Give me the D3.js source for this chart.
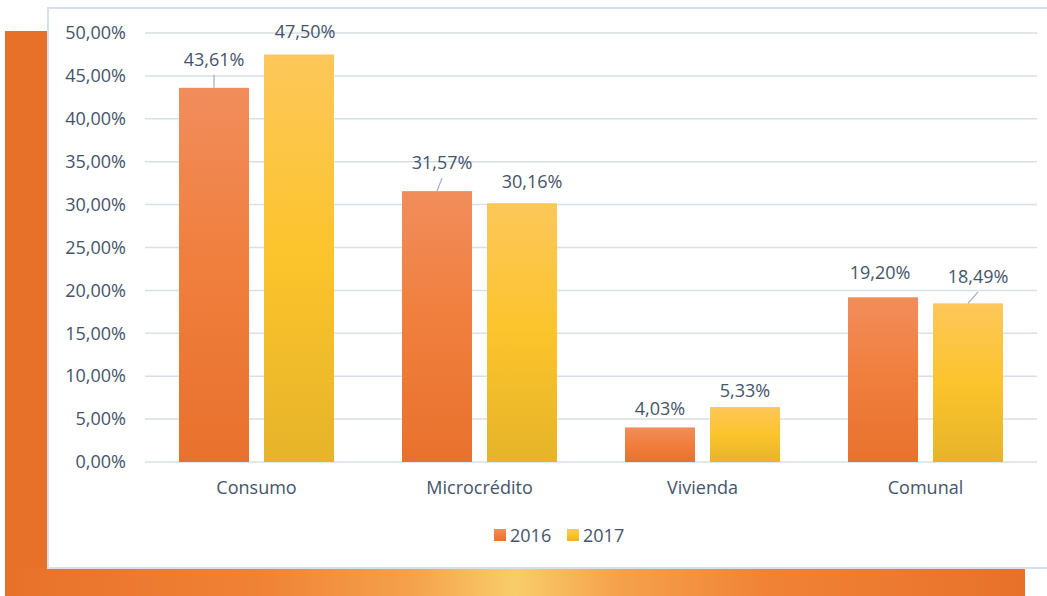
<!DOCTYPE html>
<html><head><meta charset="utf-8">
<script src="https://cdn.jsdelivr.net/npm/d3@7"></script>
<style>
html,body{margin:0;padding:0;background:#fff;}
svg{display:block;}
text{font-family:"Open Sans",sans-serif;fill:#44546A;}
</style></head>
<body>
<script>
const categories = ["Consumo", "Microcrédito", "Vivienda", "Comunal"];
const seriesNames = ["2016", "2017"];
const values2016 = [43.61, 31.57, 4.03, 19.20];
const values2017 = [47.50, 30.16, 6.40, 18.49];
const labels2016 = ["43,61%", "31,57%", "4,03%", "19,20%"];
const labels2017 = ["47,50%", "30,16%", "5,33%", "18,49%"];
const yTicks = [0, 5, 10, 15, 20, 25, 30, 35, 40, 45, 50];

const W = 1047, H = 596;
const FS = 18;
const svg = d3.select("body").append("svg").attr("width", W).attr("height", H);
const defs = svg.append("defs");

// background gradient
const bg = defs.append("linearGradient").attr("id", "bgGrad").attr("x1", "0").attr("x2", "1").attr("y1", "0").attr("y2", "0");
bg.append("stop").attr("offset", "0").attr("stop-color", "#E8712A");
bg.append("stop").attr("offset", "0.25").attr("stop-color", "#F08235");
bg.append("stop").attr("offset", "0.4").attr("stop-color", "#F5A24C");
bg.append("stop").attr("offset", "0.5").attr("stop-color", "#F9CD6A");
bg.append("stop").attr("offset", "0.6").attr("stop-color", "#F5A24C");
bg.append("stop").attr("offset", "0.75").attr("stop-color", "#F08235");
bg.append("stop").attr("offset", "1").attr("stop-color", "#E8712A");

const g16 = defs.append("linearGradient").attr("id", "g2016").attr("x1", "0").attr("x2", "0").attr("y1", "0").attr("y2", "1");
g16.append("stop").attr("offset", "0").attr("stop-color", "#F18D5C");
g16.append("stop").attr("offset", "0.5").attr("stop-color", "#F07E3C");
g16.append("stop").attr("offset", "1").attr("stop-color", "#E8712D");
const g17 = defs.append("linearGradient").attr("id", "g2017").attr("x1", "0").attr("x2", "0").attr("y1", "0").attr("y2", "1");
g17.append("stop").attr("offset", "0").attr("stop-color", "#FDC75A");
g17.append("stop").attr("offset", "0.5").attr("stop-color", "#FCC42C");
g17.append("stop").attr("offset", "1").attr("stop-color", "#E6B42A");

// orange backdrop
svg.append("rect").attr("x", 5).attr("y", 31).attr("width", 1020).attr("height", H - 31).attr("fill", "#E8712A");
svg.append("rect").attr("x", 5).attr("y", 568).attr("width", 1020).attr("height", H - 568).attr("fill", "url(#bgGrad)");

// white panel
svg.append("rect").attr("x", 48).attr("y", 8).attr("width", 1010).attr("height", 560)
  .attr("fill", "#fff").attr("stroke", "#D9DFE7").attr("stroke-width", 2);

const x = d3.scaleBand().domain(categories).range([145, 1037]).padding(0);
const xs = d3.scaleBand().domain(seriesNames).range([0, 155]).paddingInner(15 / 85).paddingOuter(0);
const y = d3.scaleLinear().domain([0, 50]).range([462, 33]);

// gridlines
svg.append("g").selectAll("line").data(yTicks).join("line")
  .attr("x1", 145).attr("x2", 1037)
  .attr("y1", d => y(d)).attr("y2", d => y(d))
  .attr("stroke", "#D9DFE6").attr("stroke-width", 1.5);

// y axis labels
const yAxis = d3.axisLeft(y).tickValues(yTicks).tickSize(0).tickPadding(0)
  .tickFormat(d => d.toFixed(2).replace(".", ",") + "%");
const ya = svg.append("g").attr("transform", "translate(126,0)").call(yAxis);
ya.select(".domain").remove();
ya.selectAll("text").attr("font-size", FS).attr("font-family", "Open Sans").attr("fill", "#44546A");

// x axis labels
const xAxis = d3.axisBottom(x).tickSize(0).tickPadding(0);
const xa = svg.append("g").attr("transform", "translate(0,481)").call(xAxis);
xa.select(".domain").remove();
xa.selectAll("text").attr("font-size", FS).attr("font-family", "Open Sans").attr("fill", "#44546A");

const data = categories.map((c, i) => ({
  cat: c,
  vals: [
    {s: "2016", v: values2016[i], label: labels2016[i]},
    {s: "2017", v: values2017[i], label: labels2017[i]}
  ]
}));

const groups = svg.append("g").selectAll("g").data(data).join("g")
  .attr("transform", d => `translate(${x(d.cat) + (x.bandwidth() - 155) / 2},0)`);
groups.selectAll("rect").data(d => d.vals).join("rect")
  .attr("x", d => xs(d.s)).attr("width", xs.bandwidth())
  .attr("y", d => y(d.v)).attr("height", d => y(0) - y(d.v))
  .attr("fill", d => d.s === "2016" ? "url(#g2016)" : "url(#g2017)");

// data label placement (baseline offset from bar top; some with leader lines)
const labelOffsets = {
  "Consumo|2016": {dx: 0, dy: -22, leader: true},
  "Consumo|2017": {dx: 6, dy: -16.5},
  "Microcrédito|2016": {dx: 5, dy: -22, leader: true},
  "Microcrédito|2017": {dx: 10, dy: -15},
  "Vivienda|2016": {dx: 0, dy: -12.5},
  "Vivienda|2017": {dx: 0, dy: -10.5},
  "Comunal|2016": {dx: -3, dy: -18.5},
  "Comunal|2017": {dx: 10, dy: -20.5, leader: true}
};
groups.each(function(d) {
  const g = d3.select(this);
  d.vals.forEach(v => {
    const o = labelOffsets[d.cat + "|" + v.s];
    const cx = xs(v.s) + xs.bandwidth() / 2;
    const top = y(v.v);
    const base = top + o.dy;
    if (o.leader) {
      g.append("line")
        .attr("x1", cx + o.dx).attr("y1", base + 9)
        .attr("x2", cx).attr("y2", top)
        .attr("stroke", "#A5B1C2").attr("stroke-width", 1.3);
    }
    g.append("text").attr("x", cx + o.dx).attr("y", base)
      .attr("text-anchor", "middle").attr("font-size", FS).text(v.label);
  });
});

// legend
const legendX = [494, 567];
const lg = svg.append("g").selectAll("g").data(seriesNames).join("g")
  .attr("transform", (d, i) => `translate(${legendX[i]},529)`);
lg.append("rect").attr("width", 12).attr("height", 12)
  .attr("fill", d => d === "2016" ? "url(#g2016)" : "url(#g2017)");
lg.append("text").attr("x", 16).attr("y", 12.5).attr("font-size", FS).text(d => d);
</script>
</body></html>
